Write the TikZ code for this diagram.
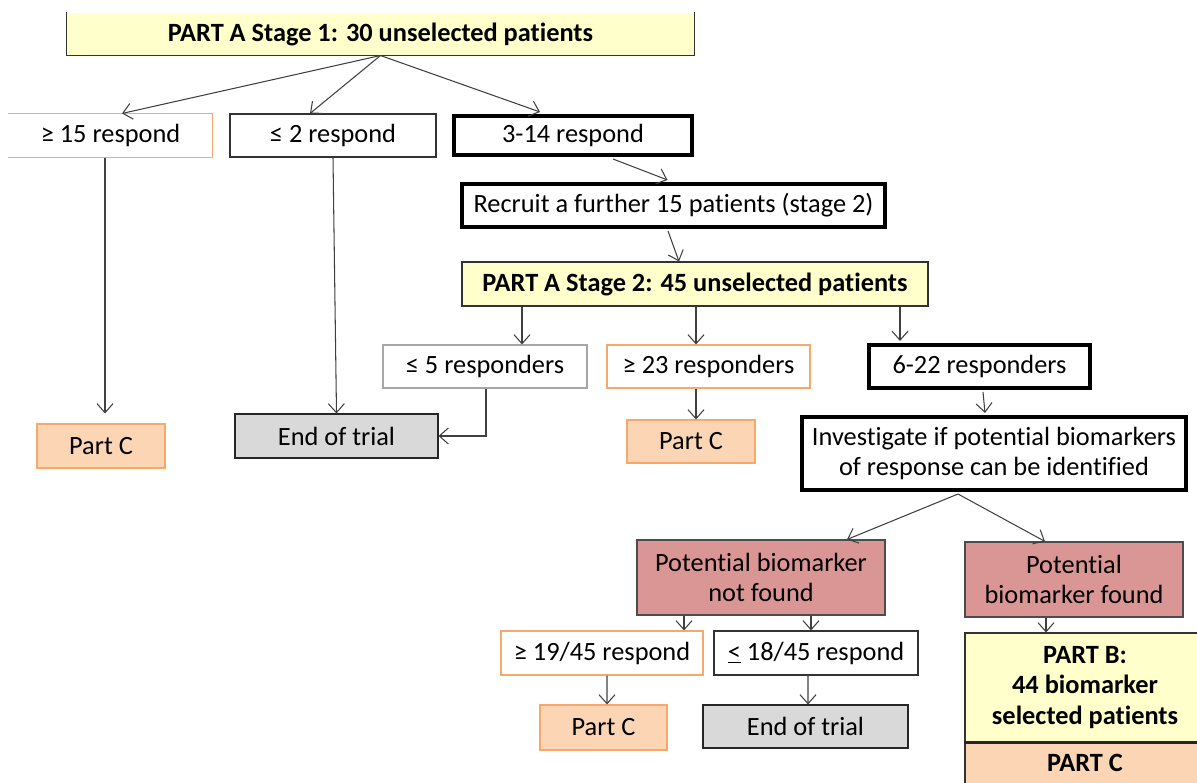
\documentclass[tikz,border=0pt]{standalone}
\usepackage{fontspec}
\setmainfont[Ligatures=NoCommon]{Carlito}
\usetikzlibrary{arrows.meta,calc}
\definecolor{paleyellow}{HTML}{FFFFCC}
\definecolor{peach}{HTML}{FCD5B5}
\definecolor{orangeline}{HTML}{F7A96B}
\definecolor{greyfill}{HTML}{D9D9D9}
\definecolor{rosefill}{HTML}{DA9694}
\definecolor{greyline}{HTML}{A6A6A6}
\definecolor{arrowcol}{HTML}{404040}
\tikzset{
  box/.style={inner sep=0pt, align=center, font=\fontsize{15}{17.5}\selectfont, text=black},
  sized/.style 2 args={minimum width=#1*0.02cm, minimum height=#2*0.02cm},
  plain/.style={box, draw=black!80, line width=0.6pt, fill=white},
  orangebox/.style={box, draw=orangeline, line width=0.6pt, fill=white},
  greybox/.style={box, draw=greyline, line width=0.6pt, fill=white},
  heavy/.style={box, draw=black, line width=2.3pt, fill=white},
  yellowbox/.style={box, fill=paleyellow, draw=black!80, line width=0.6pt, font=\fontsize{15}{17.5}\selectfont\bfseries},
  partc/.style={box, fill=peach, draw=orangeline, line width=0.6pt},
  endbox/.style={box, fill=greyfill, draw=black!85, line width=0.6pt},
  rosebox/.style={box, fill=rosefill, draw=black!70, line width=0.6pt},
  link/.style={draw=arrowcol, line width=0.6pt, -{Straight Barb[length=1.8mm,width=3.2mm]}},
}
\begin{document}
\begin{tikzpicture}[x=0.02cm, y=-0.02cm]
\useasboundingbox (0,0) rectangle (1197,783);

% Part A, stage 1
\node[yellowbox, draw=none, sized={627}{42}] (top) at (380.5,34) {PART A Stage 1: 30 unselected patients};
\draw[black!80, line width=0.6pt] (top.north west) -- (top.south west) -- (top.south east) -- (top.north east);

\node[orangebox, draw=none, sized={203}{43}] (r15) at (110.5,135.5) {≥ 15 respond};
\draw[orangeline, line width=0.6pt] (r15.north west) -- (r15.north east) -- (r15.south east) -- (r15.south west);
\node[plain, sized={206}{43}] (r2) at (333,135.5) {≤ 2 respond};
\node[heavy, sized={238}{39}] (r314) at (573,135.5) {3-14 respond};

\node[heavy, sized={423}{43}] (recruit) at (673.5,205.5) {Recruit a further 15 patients (stage 2)};

% Part A, stage 2
\node[yellowbox, sized={466}{44}] (st2) at (695,284) {PART A Stage 2: 45 unselected patients};
\node[greybox, sized={204}{43}] (r5) at (485,366.5) {≤ 5 responders};
\node[orangebox, sized={203}{43}] (r23) at (708.5,366.5) {≥ 23 responders};
\node[heavy, sized={221}{43}] (r622) at (979.5,366.5) {6-22 responders};
\node[heavy, sized={384}{73}] (inv) at (994,453.5) {Investigate if potential biomarkers\\of response can be identified};

\node[partc, sized={128}{44}] (pcL) at (101,446) {Part C};
\node[endbox, sized={203}{44}] (endL) at (336.5,436) {End of trial};
\node[partc, sized={128}{43}] (pcM) at (691,441.5) {Part C};

% Biomarker branch
\node[rosebox, sized={248}{75}] (nf) at (761,577.5) {Potential biomarker\\not found};
\node[rosebox, sized={218}{75}] (fd) at (1074,579.5) {Potential\\biomarker found};
\node[orangebox, sized={202}{44}] (r19) at (602,653) {≥ 19/45 respond};
\node[plain, sized={204}{44}] (r18) at (816,653) {\underline{<} 18/45 respond};
\node[partc, sized={127}{45}] (pcB) at (603.5,727.5) {Part C};
\node[endbox, sized={205}{43}] (endB) at (805.5,726.5) {End of trial};
\node[yellowbox, sized={240}{109}] (partB) at (1085,687.5) {PART B:\\44 biomarker\\selected patients};
\node[partc, draw=black!80, font=\fontsize{15}{17.5}\selectfont\bfseries, sized={240}{58}] (partC) at (1085,771) {\raisebox{9pt}{PART C}};
\draw[black!85, line width=1.4pt] (partB.south west) -- (partB.south east);

% Connectors
\draw[link] (top.south) -- ($(r15.north)+(11.5,0)$);
\draw[link] (top.south) -- ($(r2.north)+(-23,0)$);
\draw[link] (top.south) -- ($(r314.north)+(-33,-2)$);
\draw[link] ($(r15.south)+(-5.5,0)$) -- ($(pcL.north)+(4,-10)$);
\draw[link] (r2.south) -- (endL.north);
\draw[link] ($(r314.south)+(40,2)$) -- ($(recruit.north)+(-6,-2)$);
\draw[link] ($(recruit.south)+(-5.5,2)$) -- ($(st2.north)+(-16,0)$);
\draw[link] ($(st2.south)+(-173,0)$) -- ($(r5.north)+(37,0)$);
\draw[link] ($(st2.south)+(1,0)$) -- ($(r23.north)+(-12.5,0)$);
\draw[link] ($(st2.south)+(205,0)$) -- ($(r622.north)+(-79.5,-2)$);
\draw[link] ($(r5.south)+(1,0)$) |- (endL.east);
\draw[link] ($(r23.south)+(-12.5,0)$) -- ($(pcM.north)+(5,0)$);
\draw[link] ($(r622.south)+(3.5,2)$) -- ($(inv.north)+(-9,-2)$);
\draw[link] ($(inv.south)+(-36,2)$) -- ($(nf.north)+(86,0)$);
\draw[link] ($(inv.south)+(-36,2)$) -- ($(fd.north)+(-29,0)$);
\draw[link] ($(nf.south)+(-77,0)$) -- ($(r19.north)+(82,0)$);
\draw[link] ($(nf.south)+(50,0)$) -- ($(r18.north)+(-5,0)$);
\draw[link] ($(fd.south)+(-28,0)$) -- ($(partB.north)+(-39,0)$);
\draw[link] ($(r19.south)+(5,0)$) -- ($(pcB.north)+(3.5,0)$);
\draw[link] ($(r18.south)+(-8,0)$) -- ($(endB.north)+(2.5,0)$);
\end{tikzpicture}
\end{document}
